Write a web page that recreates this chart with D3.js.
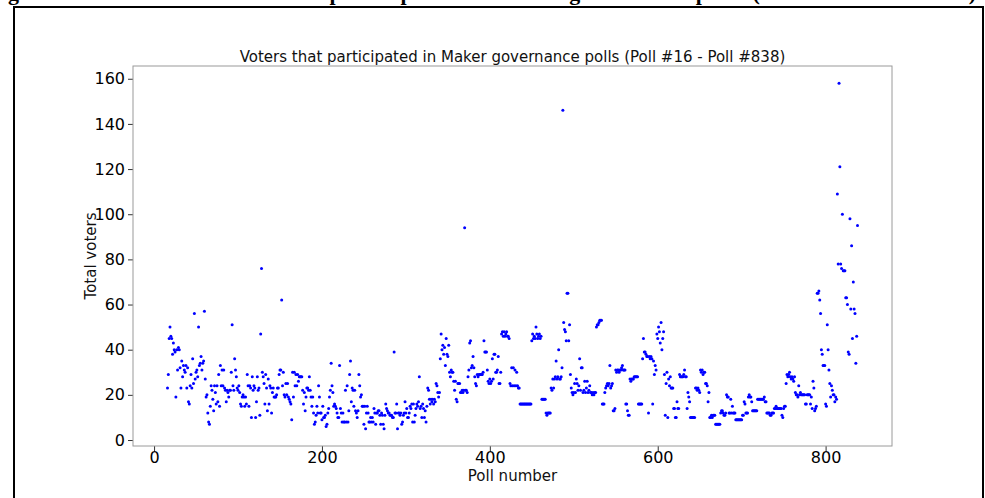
<!DOCTYPE html>
<html>
<head>
<meta charset="utf-8">
<script src="https://cdn.jsdelivr.net/npm/d3@7"></script>
<style>
  html, body { margin: 0; padding: 0; background: #fff; }
  svg { display: block; }
</style>
</head>
<body>
<svg id="chart" width="985" height="498"></svg>
<script>
// Maker governance polls: number of voters per poll, polls #16 through #838
const firstPoll = 16;
const lastPoll = 838;

// Total voters, one entry per poll (20 polls per row)
const voters16  = [23,29,45,50,46,45,38,43,40,39,19,40,31,41,40,32,23,35,28,33];
const voters36  = [31,30,33,23,32,17,16,24,29,23,36,25,56,27,30,31,28,50,33,34];
const voters56  = [37,31,34,35,57,27,19,20,12,8,7,15,24,22,18,13,24,21,16,24];
const voters76  = [17,29,15,33,24,31,24,31,23,22,17,22,21,19,22,22,30,51,24,22];
const voters96  = [36,31,28,23,22,24,21,16,15,19,20,19,15,19,16,29,24,15,24,23];
const voters116 = [10,28,22,24,23,10,17,28,22,23,11,47,76,30,28,25,16,29,23,13];
const voters136 = [27,16,24,23,12,21,23,19,19,19,20,23,23,29,31,31,62,24,30,20];
const voters156 = [19,25,20,25,19,18,17,16,9,30,19,30,24,29,24,29,26,28,28,28];
const voters176 = [28,22,16,21,13,19,23,23,22,28,22,19,15,19,12,7,8,11,15,12];
const voters196 = [24,19,12,12,9,15,10,10,11,6,7,12,14,19,22,34,24,21,15,16];
const voters216 = [15,14,12,10,10,33,14,12,8,12,8,8,22,8,24,8,13,29,35,17];
const voters236 = [23,22,15,22,13,12,10,13,29,24,19,20,15,15,7,15,5,12,15,12];
const voters256 = [8,8,10,8,10,8,14,12,7,12,12,13,13,11,7,12,11,7,5,11];
const voters276 = [16,14,13,12,12,11,11,11,10,10,39,12,12,16,5,12,12,11,12,7];
const voters296 = [8,11,12,17,12,14,10,10,12,15,14,16,8,16,8,11,14,16,15,17];
const voters316 = [28,14,15,10,16,14,10,13,8,15,23,22,18,16,18,17,18,16,18,17];
const voters336 = [25,24,21,19,21,36,47,40,42,38,41,33,45,38,37,42,30,28,31,30];
const voters356 = [30,26,22,26,18,17,25,25,25,21,21,22,21,22,94,22,22,21,28,31];
const voters376 = [43,44,32,33,37,32,28,25,24,29,28,29,29,29,29,29,30,44,39,39];
const voters396 = [39,31,26,25,27,25,26,36,27,38,38,30,30,31,37,25,25,30,47,48];
const voters416 = [46,48,46,47,48,46,46,45,25,24,32,24,32,24,31,24,30,24,23,23];
const voters436 = [16,16,16,16,16,16,16,16,16,16,16,16,16,16,44,47,45,46,45,50];
const voters456 = [47,45,46,47,45,46,18,18,18,18,18,12,11,12,12,12,12,23,22,27];
const voters476 = [23,27,28,35,27,28,40,27,27,28,32,146,52,49,48,44,65,65,44,51];
const voters496 = [29,23,21,20,21,25,21,27,25,22,24,36,22,32,32,21,22,26,21,23];
const voters516 = [26,21,22,24,21,21,20,21,20,21,21,50,51,51,52,53,53,53,16,16];
const voters536 = [16,21,23,24,25,24,25,33,23,24,25,13,13,14,31,30,31,31,30,31];
const voters556 = [31,32,33,31,31,31,16,16,13,11,11,27,26,27,27,27,28,28,28,28];
const voters576 = [28,16,16,16,16,16,36,45,39,39,38,37,37,12,37,36,37,36,16,35];
const voters596 = [29,33,31,47,45,50,48,43,52,40,45,48,29,11,25,30,10,27,24,28];
const voters616 = [23,23,23,14,14,10,10,17,14,14,29,28,28,28,28,29,31,28,28,14];
const voters636 = [21,19,17,10,10,10,10,10,10,23,23,22,23,22,21,31,30,31,29,30];
const voters656 = [30,25,25,24,17,21,10,10,11,10,11,11,11,7,7,7,7,7,7,12];
const voters676 = [13,13,12,11,11,12,20,19,19,12,12,18,12,15,12,12,12,9,9,9];
const voters696 = [9,9,9,9,9,11,11,17,16,12,12,12,19,20,19,19,17,13,13,13];
const voters716 = [13,13,13,18,18,18,18,18,18,18,18,19,17,17,12,12,12,12,11,11];
const voters736 = [12,12,12,14,14,15,14,14,14,14,14,14,11,10,14,15,15,25,29,28];
const voters756 = [29,30,28,27,28,27,26,28,21,20,20,19,24,20,21,20,20,20,20,20];
const voters776 = [16,16,20,20,20,20,16,19,14,26,23,13,14,15,65,65,66,62,56,40];
const voters796 = [38,33,33,33,16,15,51,40,31,25,19,24,22,20,20,17,19,18,109,78];
const voters816 = [158,121,78,76,100,75,75,75,63,63,60,39,38,98,58,86,45,70,58,56,34,46,95];

const xTicks = [0, 200, 400, 600, 800];
const yTicks = [0, 20, 40, 60, 80, 100, 120, 140, 160];

const chartTitle = "Voters that participated in Maker governance polls (Poll #16 - Poll #838)";
const xLabel = "Poll number";
const yLabel = "Total voters";
const headingText = "Figure 4: Number of voters that participated in Maker governance polls (Poll #16 \u2013 Poll #838)";

const voters = [].concat(
  voters16, voters36, voters56, voters76, voters96, voters116, voters136, voters156,
  voters176, voters196, voters216, voters236, voters256, voters276, voters296, voters316,
  voters336, voters356, voters376, voters396, voters416, voters436, voters456, voters476,
  voters496, voters516, voters536, voters556, voters576, voters596, voters616, voters636,
  voters656, voters676, voters696, voters716, voters736, voters756, voters776, voters796,
  voters816
);
const points = voters.map((v, i) => ({ poll: firstPoll + i, voters: v }));

const svg = d3.select("#chart");
const font = "'DejaVu Sans', sans-serif";

// Outer frame of the figure, with the caption clipped at the top edge
svg.append("rect")
  .attr("x", 14).attr("y", 7)
  .attr("width", 969).attr("height", 500)
  .attr("fill", "none").attr("stroke", "#000").attr("stroke-width", 2);

svg.append("text")
  .attr("x", -14).attr("y", 0)
  .attr("font-family", "'Liberation Serif', serif")
  .attr("font-weight", "bold")
  .attr("font-size", 22)
  .attr("fill", "#000")
  .attr("textLength", 990)
  .attr("lengthAdjust", "spacing")
  .text(headingText);

// Plot area
const plot = { left: 133, right: 892, top: 66, bottom: 446 };

const pad = 0.05;
const xPad = (lastPoll - firstPoll) * pad;
const yExt = d3.extent(voters);
const yPad = (yExt[1] - yExt[0]) * pad;

const x = d3.scaleLinear()
  .domain([firstPoll - xPad, lastPoll + xPad])
  .range([plot.left, plot.right]);
const y = d3.scaleLinear()
  .domain([yExt[0] - yPad, yExt[1] + yPad])
  .range([plot.bottom, plot.top]);

// Axes
const xAxis = svg.append("g")
  .attr("transform", `translate(0,${plot.bottom})`)
  .call(d3.axisBottom(x).tickValues(xTicks).tickSize(5).tickPadding(1));
const yAxis = svg.append("g")
  .attr("transform", `translate(${plot.left},0)`)
  .call(d3.axisLeft(y).tickValues(yTicks).tickSize(5).tickPadding(3));

[xAxis, yAxis].forEach(g => {
  g.select(".domain").remove();
  g.selectAll(".tick line").attr("stroke", "#333").attr("stroke-width", 1);
  g.selectAll(".tick text")
    .attr("font-family", font).attr("font-size", 16).attr("fill", "#000");
});

// Spines
svg.append("rect")
  .attr("x", plot.left).attr("y", plot.top)
  .attr("width", plot.right - plot.left).attr("height", plot.bottom - plot.top)
  .attr("fill", "none").attr("stroke", "#9a9a9a").attr("stroke-width", 1);

// Points
svg.append("g")
  .selectAll("circle")
  .data(points)
  .join("circle")
  .attr("cx", d => x(d.poll))
  .attr("cy", d => y(d.voters))
  .attr("r", 1.5)
  .attr("fill", "#0000ff");

// Titles
svg.append("text")
  .attr("x", (plot.left + plot.right) / 2).attr("y", 62)
  .attr("text-anchor", "middle")
  .attr("font-family", font).attr("font-size", 15).attr("fill", "#111")
  .text(chartTitle);

svg.append("text")
  .attr("x", (plot.left + plot.right) / 2).attr("y", 481)
  .attr("text-anchor", "middle")
  .attr("font-family", font).attr("font-size", 15).attr("fill", "#111")
  .text(xLabel);

svg.append("text")
  .attr("transform", `translate(96,${(plot.top + plot.bottom) / 2}) rotate(-90)`)
  .attr("text-anchor", "middle")
  .attr("font-family", font).attr("font-size", 15).attr("fill", "#111")
  .text(yLabel);
</script>
</body>
</html>
